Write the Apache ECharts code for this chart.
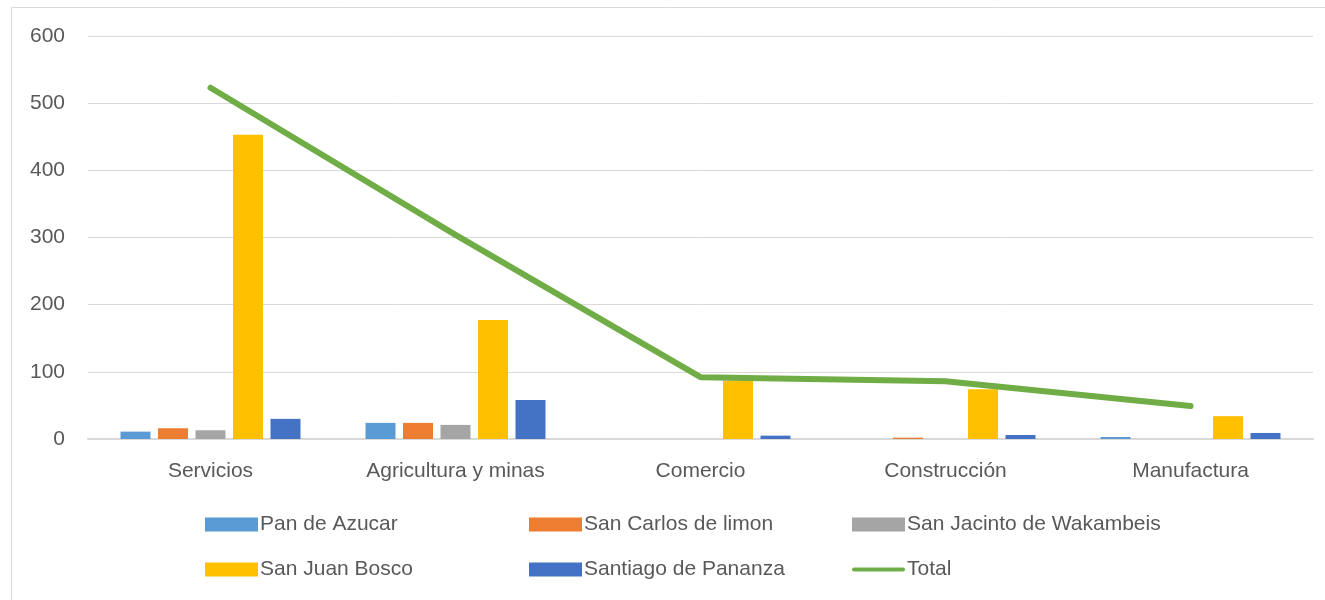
<!DOCTYPE html>
<html>
<head>
<meta charset="utf-8">
<script src="https://cdn.jsdelivr.net/npm/echarts@6/dist/echarts.min.js"></script>
<style>
  html, body { margin: 0; padding: 0; background: #fff; }
  #container { width: 1325px; height: 600px; }
</style>
</head>
<body>
<div id="container"></div>
<script>
// data
var categories = ['Servicios', 'Agricultura y minas', 'Comercio', 'Construcción', 'Manufactura'];
var panDeAzucar = [11, 24, 0, 0, 3];
var sanCarlos = [16, 24, 0, 2, 0];
var sanJacinto = [13, 21, 0, 0, 0];
var sanJuanBosco = [453, 177, 87, 74, 34];
var santiago = [30, 58, 5, 6, 9];
var total = [523, 304, 92, 86, 49];
var yTicks = { min: 0, max: 600, interval: 100 };

var dom = document.getElementById('container');
var myChart = echarts.init(dom, null, { renderer: 'canvas' });

var font = 'Liberation Sans';
var textColor = '#595959';

function barSeries(name, data, color) {
    return {
        name: name,
        type: 'bar',
        data: data,
        barWidth: 30,
        barGap: '25%',
        itemStyle: { color: color },
        emphasis: { disabled: true }
    };
}

var legendText = { fontFamily: font, fontSize: 21, color: textColor, padding: [0, 0, 0, -3] };

function legendCol(left, names) {
    return {
        orient: 'vertical',
        left: left,
        top: 509,
        icon: 'rect',
        itemWidth: 53,
        itemHeight: 14,
        itemGap: 24,
        textStyle: legendText,
        data: names
    };
}

var option = {
    animation: false,
    color: ['#5B9BD5', '#ED7D31', '#A5A5A5', '#FFC000', '#4472C4', '#70AD47'],
    graphic: [{
        type: 'rect',
        shape: { x: 11.5, y: 7.5, width: 1330, height: 620 },
        style: { fill: 'none', stroke: '#D9D9D9', lineWidth: 1 },
        silent: true
    }],
    grid: { left: 88, right: 12, top: 36, bottom: 161 },
    legend: [
        legendCol(200, ['Pan de Azucar', 'San Juan Bosco']),
        legendCol(524, ['San Carlos de limon', 'Santiago de Pananza']),
        legendCol(847, ['San Jacinto de Wakambeis', {
            name: 'Total',
            icon: 'path://M2,0 L51,0 A2,2 0 0 1 51,4 L2,4 A2,2 0 0 1 2,0 Z'
        }])
    ],
    xAxis: {
        type: 'category',
        data: categories,
        axisTick: { show: false },
        axisLine: { lineStyle: { color: '#D9D9D9', width: 2 } },
        axisLabel: { fontFamily: font, fontSize: 21, color: textColor, margin: 22 }
    },
    yAxis: {
        type: 'value',
        min: yTicks.min,
        max: yTicks.max,
        interval: yTicks.interval,
        axisLine: { show: false },
        axisTick: { show: false },
        splitLine: { lineStyle: { color: '#D9D9D9', width: 1 } },
        axisLabel: { fontFamily: font, fontSize: 21, color: textColor, margin: 23 }
    },
    series: [
        barSeries('Pan de Azucar', panDeAzucar, '#5B9BD5'),
        barSeries('San Carlos de limon', sanCarlos, '#ED7D31'),
        barSeries('San Jacinto de Wakambeis', sanJacinto, '#A5A5A5'),
        barSeries('San Juan Bosco', sanJuanBosco, '#FFC000'),
        barSeries('Santiago de Pananza', santiago, '#4472C4'),
        {
            name: 'Total',
            type: 'line',
            data: total,
            symbol: 'none',
            lineStyle: { color: '#70AD47', width: 6, cap: 'round', join: 'round' },
            itemStyle: { color: '#70AD47' },
            emphasis: { disabled: true },
            z: 5
        }
    ]
};

myChart.setOption(option);
window.addEventListener('resize', myChart.resize);
</script>
</body>
</html>
